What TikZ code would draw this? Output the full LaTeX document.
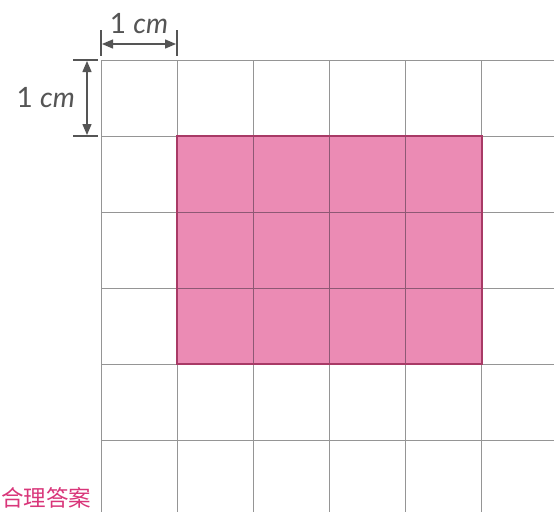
\documentclass[tikz,border=0pt]{standalone}
\usepackage{fontspec}
\setmainfont{Lato}
\newfontfamily\cjk{Noto Sans CJK SC}
\usetikzlibrary{arrows.meta}
\definecolor{gridgray}{HTML}{959595}
\definecolor{pinkfill}{HTML}{EB8BB4}
\definecolor{pinkedge}{HTML}{A83A66}
\definecolor{innerline}{HTML}{8E5874}
\definecolor{dimgray}{HTML}{555555}
\definecolor{labpink}{HTML}{D9367A}
\tikzset{
  gridline/.style={draw=gridgray, line width=1pt},
  innergrid/.style={draw=innerline, line width=1pt},
  dimline/.style={draw=dimgray, line width=1.3pt},
  dimarrow/.style={dimline, {Triangle[length=11pt,width=9pt]}-{Triangle[length=11pt,width=9pt]}},
  dimlabel/.style={font=\fontsize{28}{30}\selectfont, text=dimgray, inner sep=0pt},
}
\begin{document}
\begin{tikzpicture}[x=1pt,y=-1pt]
\useasboundingbox (0,0) rectangle (554,512);
\clip (0,0) rectangle (554,512);
\fill[white] (0,0) rectangle (554,512);
% grid
\foreach \x in {101,177,253,329,405,481}
  \draw[gridline] (\x,60) -- (\x,512);
\foreach \y in {60,136,212,288,364,440}
  \draw[gridline] (101,\y) -- (554,\y);
% pink rectangle
\node[fill=pinkfill, draw=pinkedge, line width=1.4pt, minimum width=304pt, minimum height=227pt, inner sep=0pt, anchor=north west] (rect) at (177,136) {};
\foreach \x in {253,329,405}
  \draw[innergrid] (\x,136) -- (\x,363);
\foreach \y in {212,288}
  \draw[innergrid] (177,\y) -- (481,\y);
\draw[draw=pinkedge, line width=1.4pt] (rect.north west) rectangle (rect.south east);
% horizontal dimension
\coordinate (h1a) at (101,30); \coordinate (h1b) at (101,56);
\coordinate (h2a) at (177,30); \coordinate (h2b) at (177,56);
\draw[dimline] (h1a) -- (h1b);
\draw[dimline] (h2a) -- (h2b);
\coordinate (ha) at (102,44); \coordinate (hb) at (176,44);
\draw[dimarrow] (ha) -- (hb);
\node[dimlabel, anchor=base] (hl) at (139,33) {1 \textit{cm}};
% vertical dimension
\coordinate (v1a) at (73,60); \coordinate (v1b) at (98,60);
\coordinate (v2a) at (73,136); \coordinate (v2b) at (98,136);
\draw[dimline] (v1a) -- (v1b);
\draw[dimline] (v2a) -- (v2b);
\coordinate (va) at (87,61); \coordinate (vb) at (87,135);
\draw[dimarrow] (va) -- (vb);
\node[dimlabel, anchor=base east] (vl) at (75,107) {1 \textit{cm}};
% bottom-left text
\node[font=\cjk\fontsize{22.5}{24}\selectfont, text=labpink, anchor=base west, inner sep=0pt] (ans) at (1,506) {合理答案};
\end{tikzpicture}
\end{document}
